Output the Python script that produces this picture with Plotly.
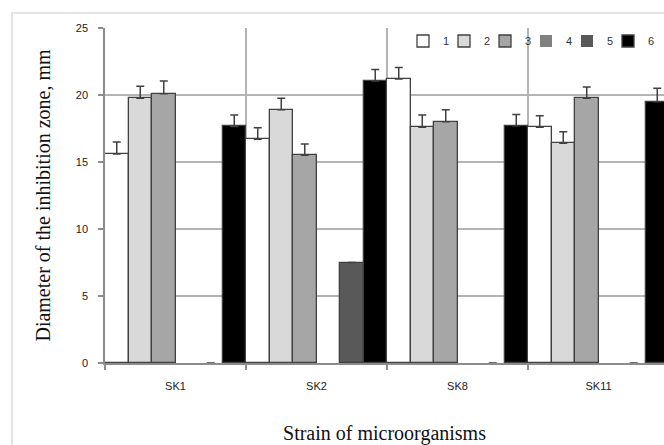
import plotly.graph_objects as go

# ---- data ----
strains = ["SK1", "SK2", "SK8", "SK11"]
series_names = ["1", "2", "3", "4", "5", "6"]

s1 = [15.6, 16.7, 21.2, 17.6]
s1_err = [0.9, 0.85, 0.85, 0.85]
s2 = [19.75, 18.9, 17.6, 16.4]
s2_err = [0.9, 0.85, 0.9, 0.85]
s3 = [20.1, 15.5, 18.0, 19.75]
s3_err = [0.95, 0.85, 0.9, 0.85]
s4 = [None, None, None, None]
s4_err = [None, None, None, None]
s5 = [0, 7.5, 0, 0]
s5_err = [0, 0, 0, 0]
s6 = [17.65, 21.05, 17.7, 19.5]
s6_err = [0.85, 0.85, 0.85, 1.0]

values = [s1, s2, s3, s4, s5, s6]
errors = [s1_err, s2_err, s3_err, s4_err, s5_err, s6_err]
colors = ["#ffffff", "#d9d9d9", "#a6a6a6", "#808080", "#595959", "#000000"]

y_ticks = [0, 5, 10, 15, 20, 25]

# plot-area geometry (pixels)
L, T, B, W_FIG, H_FIG = 105, 28, 82, 664, 445
PW = W_FIG - L
PH = H_FIG - T - B

fig = go.Figure()
legend_layouts = {}
for i, (name, vals, errs, col) in enumerate(zip(series_names, values, errors, colors)):
    outline = [0 if (v is None or v == 0) else 1.3 for v in vals]
    key = "legend" if i == 0 else f"legend{i + 1}"
    fig.add_trace(go.Bar(
        x=strains, y=vals, name=name, legend=key,
        marker=dict(color=col, line=dict(color="#404040", width=outline)),
        error_y=dict(type="data", array=errs, arrayminus=[0] * len(errs),
                     symmetric=False, color="#404040", thickness=1.5, width=4),
    ))
    # one-entry legend per series, laid out in a row along the top of the plot
    x_px = 403 + 41 * i
    legend_layouts[key] = dict(
        orientation="h", x=(x_px - L) / PW, xanchor="left",
        y=(H_FIG - B - 41) / PH, yanchor="middle",
        bgcolor="rgba(0,0,0,0)", itemwidth=30,
        font=dict(family="Liberation Sans", size=11, color="#333333"),
    )

grid = "#b4b4b4"
fig.update_layout(
    width=W_FIG, height=H_FIG,
    margin=dict(l=L, r=0, t=T, b=B, autoexpand=False),
    paper_bgcolor="white", plot_bgcolor="white",
    barmode="group", bargap=0, bargroupgap=0,
    showlegend=True,
    xaxis=dict(type="category", range=[-0.5, 3.5 - 5 / 141], tickson="boundaries",
               automargin=False,
               ticks="outside", ticklen=5, tickcolor="#8c8c8c", tickwidth=1.5,
               showline=True, linecolor="#8c8c8c", linewidth=1.5,
               showgrid=True, gridcolor=grid, gridwidth=1.5, ticklabelstandoff=12,
               tickfont=dict(family="Liberation Sans", size=11, color="#222222"),
               title=dict(text="Strain of microorganisms", standoff=40,
                          font=dict(family="Liberation Serif", size=20, color="#111111"))),
    yaxis=dict(range=[0, 25], tickvals=y_ticks, ticks="outside", ticklen=5,
               automargin=False,
               tickcolor="#8c8c8c", tickwidth=1.5,
               showline=True, linecolor="#8c8c8c", linewidth=1.5,
               showgrid=True, gridcolor=grid, gridwidth=2, zeroline=False, ticklabelstandoff=8,
               tickfont=dict(family="Liberation Sans", size=11, color="#222222"),
               title=dict(text="Diameter of the inhibition zone, mm", standoff=20,
                          font=dict(family="Liberation Serif", size=20, color="#111111"))),
    shapes=[dict(type="rect", xref="paper", yref="paper",
                 x0=(12 - L) / PW, x1=1.05, y0=-0.3, y1=(H_FIG - B - 13) / PH,
                 line=dict(color="#dcdcdc", width=1.5), fillcolor="rgba(0,0,0,0)",
                 layer="below")],
    **legend_layouts,
)

fig.write_html(
    "out.html",
    config={"displayModeBar": False},
    post_script="document.body.style.margin='0';document.body.style.padding='0';"
                "document.body.style.overflow='hidden';",
)
